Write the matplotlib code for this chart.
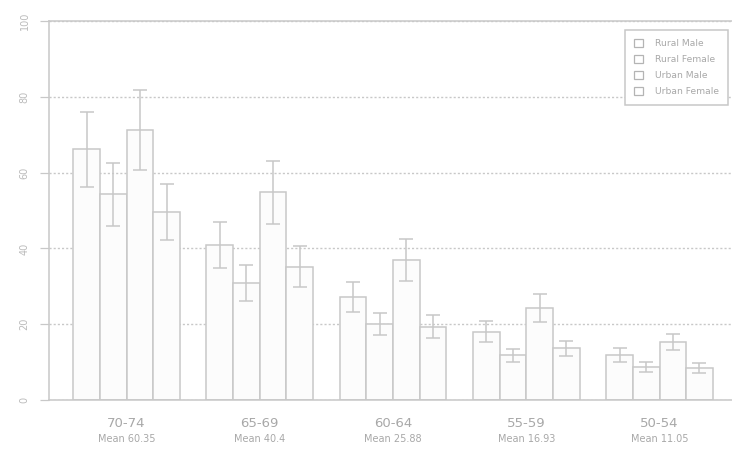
import matplotlib
matplotlib.use('Agg')
import matplotlib.pyplot as plt
from matplotlib.patches import Patch
import numpy as np

AGE_GROUPS = ['70-74', '65-69', '60-64', '55-59', '50-54']
SERIES = ['Rural Male', 'Rural Female', 'Urban Male', 'Urban Female']

RURAL_MALE = [66.1, 40.8, 27.1, 18.0, 11.8]
RURAL_FEMALE = [54.3, 30.8, 20.1, 11.8, 8.7]
URBAN_MALE = [71.3, 54.8, 37.0, 24.3, 15.3]
URBAN_FEMALE = [49.7, 35.2, 19.32, 13.62, 8.4]

ERR_RURAL_MALE = [10.0, 6.1, 4.0, 2.8, 1.8]
ERR_RURAL_FEMALE = [8.3, 4.7, 2.9, 1.7, 1.4]
ERR_URBAN_MALE = [10.5, 8.3, 5.5, 3.7, 2.2]
ERR_URBAN_FEMALE = [7.4, 5.4, 3.0, 2.0, 1.35]

LINE = '#c8c8c8'
TEXT = '#a8a8a8'

values = [RURAL_MALE, RURAL_FEMALE, URBAN_MALE, URBAN_FEMALE]
errors = [ERR_RURAL_MALE, ERR_RURAL_FEMALE, ERR_URBAN_MALE, ERR_URBAN_FEMALE]

W, H = 732, 449
fig = plt.figure(figsize=(W / 100, H / 100), dpi=100)
ax = fig.add_axes([49 / W, 49 / H, 683 / W, 379 / H])

# each group takes 5 slots: 4 bars + 1 gap
group_x = 5 * np.arange(len(AGE_GROUPS))
for i, (v, e) in enumerate(zip(values, errors)):
    x = group_x + i + 0.5
    ax.bar(x, v, width=1.0, color='#fcfcfc', edgecolor=LINE, linewidth=1.1,
           zorder=2)
    ax.errorbar(x, v, yerr=e, fmt='none', ecolor=LINE, elinewidth=1.1,
                capsize=5, capthick=1.1, zorder=3)

ax.set_xlim(-0.91, 24.72)
ax.set_ylim(0, 100)
ax.set_yticks(np.arange(0, 101, 20))
ax.tick_params(axis='y', direction='out', length=6.5, width=0.9, color=LINE,
               labelsize=7, labelcolor='#bbbbbb', pad=7.5, labelrotation=90)
for lab in ax.get_yticklabels():
    lab.set_va('center')
ax.yaxis.grid(True, color=LINE, linestyle=(0, (1.5, 1.5)), linewidth=1.0)
ax.set_axisbelow(True)

centers = group_x + 2
ax.set_xticks(centers)
ax.set_xticklabels(AGE_GROUPS)
ax.tick_params(axis='x', length=0, labelsize=9.5, labelcolor=TEXT, pad=12)
for c, grp in zip(centers, zip(*values)):
    m = round(float(np.mean(grp)), 2)
    ax.text(c, -0.103, f'Mean {m:g}', transform=ax.get_xaxis_transform(),
            ha='center', va='center', fontsize=7, color=TEXT)

for side in ['left', 'bottom', 'top']:
    ax.spines[side].set_color(LINE)
    ax.spines[side].set_linewidth(1.1)
ax.spines['right'].set_visible(False)

handles = [Patch(facecolor='white', edgecolor='#b4b4b4', linewidth=0.9)
           for _ in SERIES]
leg = ax.legend(handles, SERIES, loc='upper right',
                bbox_to_anchor=(0.9946, 0.976), borderaxespad=0,
                fancybox=False, framealpha=1, edgecolor=LINE, fontsize=6.6,
                labelcolor=TEXT, handlelength=1.0, handleheight=0.9,
                handletextpad=1.3, labelspacing=0.75, borderpad=1.0)
leg.get_frame().set_linewidth(1.1)

fig.savefig('out.png', dpi=100)
